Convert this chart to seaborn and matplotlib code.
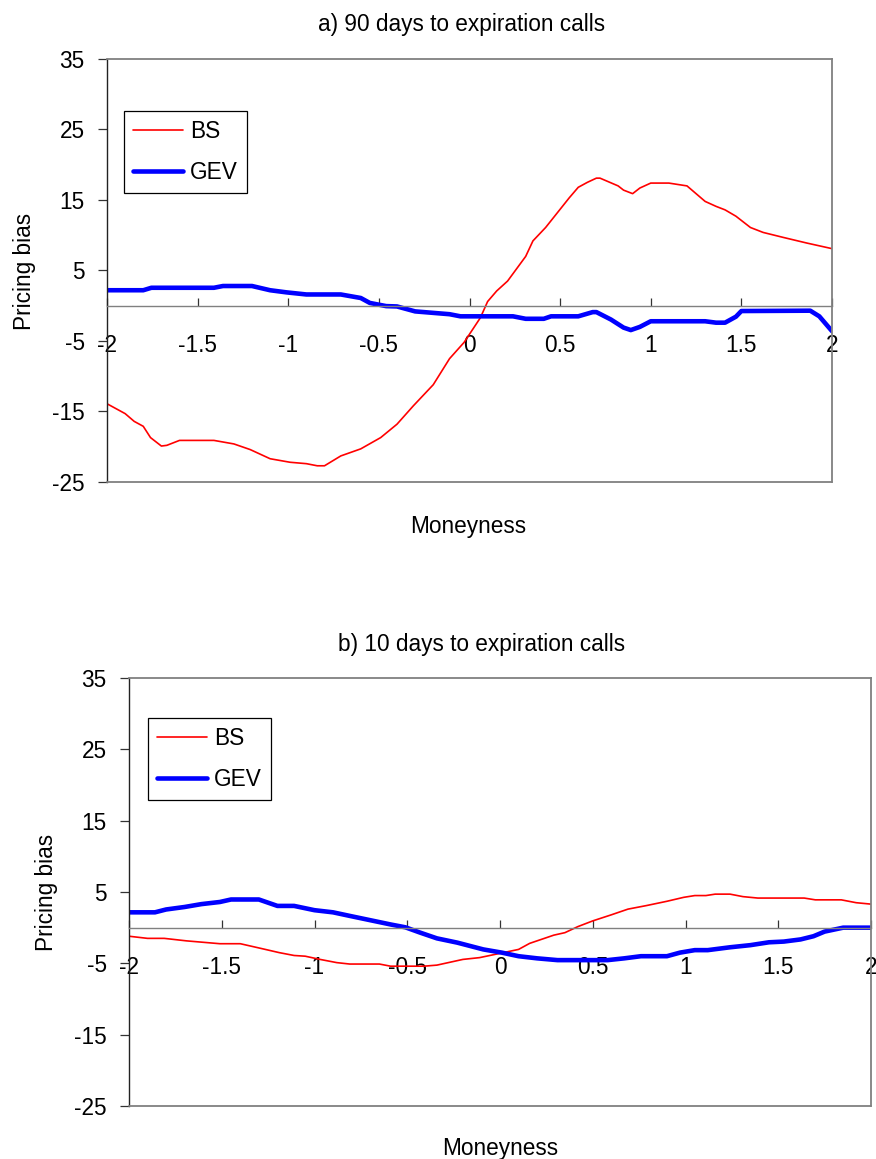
import matplotlib
matplotlib.use("Agg")
import matplotlib.pyplot as plt
import seaborn as sns
import pandas as pd

# ---------------- data ----------------
x_ticks = [-2, -1.5, -1, -0.5, 0, 0.5, 1, 1.5, 2]
x_tick_labels = ["-2", "-1.5", "-1", "-0.5", "0", "0.5", "1", "1.5", "2"]
y_ticks = [-25, -15, -5, 5, 15, 25, 35]
y_tick_labels = ["-25", "-15", "-5", "5", "15", "25", "35"]

titles = ["a) 90 days to expiration calls", "b) 10 days to expiration calls"]
series_names = ["BS", "GEV"]

# panel a) 90 days
a_bs_x = [-2.0, -1.9, -1.85, -1.8, -1.76, -1.7, -1.67, -1.6, -1.41, -1.3, -1.21, -1.1, -0.99,
          -0.9, -0.84, -0.8, -0.71, -0.6, -0.49, -0.4, -0.31, -0.2, -0.11, -0.03, 0.06, 0.1,
          0.15, 0.21, 0.31, 0.35, 0.42, 0.55, 0.6, 0.65, 0.7, 0.72, 0.82, 0.85, 0.9, 0.94,
          1.0, 1.1, 1.2, 1.3, 1.36, 1.41, 1.47, 1.55, 1.62, 1.73, 1.86, 2.0]
a_bs_y = [-13.9, -15.3, -16.4, -17.1, -18.7, -19.9, -19.8, -19.1, -19.1, -19.6, -20.4, -21.7, -22.2,
          -22.4, -22.7, -22.7, -21.3, -20.3, -18.7, -16.8, -14.2, -11.2, -7.5, -5.2, -1.7, 0.6,
          2.1, 3.5, 7.0, 9.2, 11.1, 15.3, 16.8, 17.5, 18.1, 18.1, 17.0, 16.4, 15.9, 16.7,
          17.4, 17.4, 17.0, 14.8, 14.1, 13.6, 12.7, 11.1, 10.4, 9.7, 8.9, 8.1]
a_gev_x = [-2.0, -1.8, -1.755, -1.41, -1.36, -1.2, -1.1, -1.01, -0.9, -0.71, -0.6, -0.55, -0.46,
           -0.4, -0.3, -0.11, -0.05, 0.24, 0.31, 0.41, 0.45, 0.6, 0.68, 0.7, 0.78, 0.85, 0.89,
           0.94, 1.0, 1.3, 1.36, 1.41, 1.47, 1.5, 1.88, 1.93, 1.96, 2.0]
a_gev_y = [2.2, 2.2, 2.55, 2.55, 2.8, 2.8, 2.2, 1.9, 1.6, 1.6, 1.1, 0.4, -0.05,
           -0.1, -0.8, -1.2, -1.5, -1.5, -1.85, -1.85, -1.5, -1.5, -0.9, -0.9, -1.95, -3.1, -3.45,
           -3.0, -2.2, -2.2, -2.4, -2.4, -1.55, -0.75, -0.7, -1.5, -2.4, -3.6]

# panel b) 10 days
b_bs_x = [-2.0, -1.9, -1.81, -1.69, -1.51, -1.4, -1.29, -1.19, -1.11, -1.05, -0.97, -0.88, -0.81,
          -0.65, -0.59, -0.41, -0.34, -0.2, -0.11, 0.0, 0.1, 0.16, 0.29, 0.35, 0.42, 0.5, 0.6,
          0.69, 0.79, 0.9, 0.99, 1.05, 1.11, 1.16, 1.24, 1.31, 1.39, 1.64, 1.7, 1.84, 1.92, 2.0]
b_bs_y = [-1.2, -1.5, -1.5, -1.85, -2.25, -2.25, -2.9, -3.5, -3.9, -4.0, -4.45, -4.9, -5.1,
          -5.1, -5.4, -5.4, -5.25, -4.45, -4.2, -3.6, -3.05, -2.2, -1.05, -0.7, 0.15, 0.95, 1.8,
          2.6, 3.1, 3.7, 4.25, 4.5, 4.5, 4.7, 4.7, 4.35, 4.15, 4.15, 3.9, 3.9, 3.5, 3.3]
b_gev_x = [-2.0, -1.86, -1.8, -1.7, -1.61, -1.51, -1.45, -1.3, -1.2, -1.11, -1.0, -0.9, -0.81,
           -0.7, -0.59, -0.51, -0.43, -0.34, -0.23, -0.09, 0.01, 0.1, 0.2, 0.31, 0.58, 0.67,
           0.76, 0.9, 0.97, 1.05, 1.12, 1.24, 1.35, 1.45, 1.53, 1.62, 1.69, 1.75, 1.85, 2.0]
b_gev_y = [2.15, 2.15, 2.55, 2.9, 3.3, 3.6, 3.95, 3.95, 3.05, 3.05, 2.45, 2.15, 1.65,
           1.05, 0.45, 0.05, -0.7, -1.5, -2.1, -3.05, -3.5, -4.0, -4.3, -4.55, -4.55, -4.3,
           -4.0, -4.0, -3.5, -3.15, -3.15, -2.75, -2.45, -2.05, -1.95, -1.65, -1.2, -0.55, 0.0, 0.0]

# ---------------- style ----------------
sns.set_theme(style="white")
plt.rcParams["font.family"] = ["Liberation Sans", "DejaVu Sans"]
plt.rcParams["axes.unicode_minus"] = False
for key in ["text.color", "axes.labelcolor", "xtick.labelcolor", "ytick.labelcolor", "legend.labelcolor"]:
    plt.rcParams[key] = "black"

W, H = 876, 1159
FS = 16.3
GRAY = "#808080"

fig = plt.figure(figsize=(W / 100, H / 100), dpi=100)

# axes boxes in pixels: left, top, right, bottom
boxes = [(107, 59, 832, 482), (129, 678, 871, 1106)]
legend_pos = [(124, 111), (148, 718)]
title_pos = [(462, 25), (482, 644)]
xlabel_pos = [(468, 526), (500, 1148)]
ylabel_pos = [(25, 271), (47, 892)]

data = [
    (a_bs_x, a_bs_y, a_gev_x, a_gev_y),
    (b_bs_x, b_bs_y, b_gev_x, b_gev_y),
]

for i, (l, t, r, b) in enumerate(boxes):
    ax = fig.add_axes([l / W, 1 - b / H, (r - l) / W, (b - t) / H])
    bsx, bsy, gvx, gvy = data[i]
    df_bs = pd.DataFrame({"Moneyness": bsx, "Pricing bias": bsy})
    df_gev = pd.DataFrame({"Moneyness": gvx, "Pricing bias": gvy})
    sns.lineplot(data=df_bs, x="Moneyness", y="Pricing bias", ax=ax, color="#FF0000",
                 lw=1.2, label=series_names[0], sort=False, estimator=None)
    sns.lineplot(data=df_gev, x="Moneyness", y="Pricing bias", ax=ax, color="#0000FF",
                 lw=3.3, label=series_names[1], sort=False, estimator=None)

    ax.set_xlim(-2, 2)
    ax.set_ylim(-25, 35)
    ax.set_xlabel("")
    ax.set_ylabel("")

    # spines
    ax.spines["bottom"].set_position(("data", 0))
    ax.spines["bottom"].set_color(GRAY)
    ax.spines["bottom"].set_linewidth(1.0)
    for s in ["top", "right"]:
        ax.spines[s].set_color(GRAY)
        ax.spines[s].set_linewidth(1.3)
    ax.spines["left"].set_color("#222222")
    ax.spines["left"].set_linewidth(1.0)
    ax.axhline(-25, color=GRAY, lw=1.3, clip_on=False, zorder=3)

    ax.set_xticks(x_ticks)
    ax.set_xticklabels(x_tick_labels)
    ax.set_yticks(y_ticks)
    ax.set_yticklabels(y_tick_labels)
    ax.tick_params(axis="x", direction="in", length=6, width=0.9, color="#333333",
                   pad=20.5, labelsize=FS, labelcolor="black", bottom=True)
    ax.tick_params(axis="y", direction="out", length=6.5, width=0.9, color="#333333",
                   pad=9.5, labelsize=FS, labelcolor="black", left=True)

    lx, ly = legend_pos[i]
    leg = ax.legend(loc="upper left", bbox_to_anchor=(lx / W, 1 - ly / H),
                    bbox_transform=fig.transFigure, borderaxespad=0, fontsize=FS,
                    frameon=True, fancybox=False, framealpha=1, edgecolor="black",
                    handlelength=2.2, handletextpad=0.3, labelspacing=0.8,
                    borderpad=0.4)
    leg.get_frame().set_linewidth(0.9)
    for txt in leg.get_texts():
        txt.set_color("black")

    tx, ty = title_pos[i]
    fig.text(tx / W, 1 - ty / H, titles[i], ha="center", va="center", fontsize=FS, color="black")
    mx, my = xlabel_pos[i]
    fig.text(mx / W, 1 - my / H, "Moneyness", ha="center", va="center", fontsize=FS, color="black")
    px, py = ylabel_pos[i]
    fig.text(px / W, 1 - py / H, "Pricing bias", ha="center", va="center",
             fontsize=FS, rotation=90, color="black")

fig.savefig("out.png", dpi=100)
